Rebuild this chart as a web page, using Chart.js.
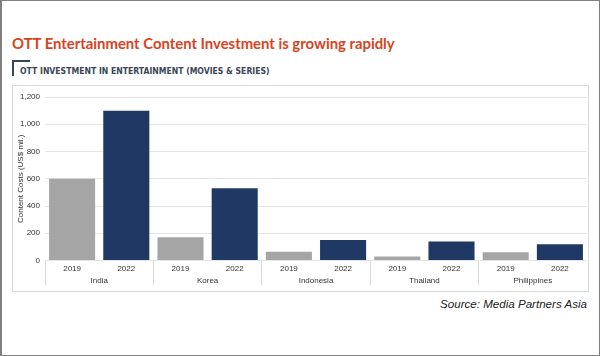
<!DOCTYPE html>
<html>
<head>
<meta charset="utf-8">
<script src="https://cdn.jsdelivr.net/npm/chart.js@4/dist/chart.umd.min.js"></script>
<style>
  html, body { margin: 0; padding: 0; background: #fff; }
  body { width: 600px; height: 356px; position: relative; overflow: hidden; }
  #frame { position: absolute; left: 0; top: 0; width: 600px; height: 356px; box-sizing: border-box;
           border: 1px solid #7f7f7f; border-left-width: 2px; }
  .txt { position: absolute; white-space: nowrap; line-height: 1; }
  #title { left: 12px; top: 36px; color: #d8431e; font-family: Lato, "Noto Sans", sans-serif; font-weight: bold; font-size: 15px; }
  #subtitle { left: 20px; top: 67px; color: #3b4656; font-family: "Liberation Sans Narrow", "DejaVu Sans Condensed", sans-serif; font-weight: bold; font-size: 11px; }
  #bracket { position: absolute; left: 12px; top: 60px; width: 16px; height: 14px; border-left: 2px solid #3b4656; border-top: 2px solid #3b4656; }
  #box { position: absolute; left: 12px; top: 85px; width: 577px; height: 207px; box-sizing: border-box; border: 1px solid #d6dce4; }
  #wrap { position: absolute; left: 12px; top: 85px; width: 576px; height: 207px; }
  #source { top: 299px; color: #222; font-family: "Liberation Sans", sans-serif; font-style: italic; font-size: 11px; }
</style>
</head>
<body>
<div id="frame"></div>
<div id="title" class="txt">OTT Entertainment Content Investment is growing rapidly</div>
<div id="bracket"></div>
<div id="subtitle" class="txt">OTT INVESTMENT IN ENTERTAINMENT (MOVIES &amp; SERIES)</div>
<div id="box"></div>
<div id="wrap"><canvas id="c" width="576" height="207"></canvas></div>
<div id="source" class="txt">Source: Media Partners Asia</div>
<script>
// ---- data ----
const countries = ['India', 'Korea', 'Indonesia', 'Thailand', 'Philippines'];
const years = ['2019', '2022'];
const values2019 = [600, 170, 65, 30, 60];
const values2022 = [1100, 530, 150, 140, 120];
const yTicks = [0, 200, 400, 600, 800, 1000, 1200];
const yTitle = 'Content Costs (US$ mil.)';

// ---- text fitting (layout only) ----
function fit(id, targetWidth) {
  const el = document.getElementById(id);
  const fs = parseFloat(getComputedStyle(el).fontSize);
  const w = el.getBoundingClientRect().width;
  el.style.fontSize = (fs * targetWidth / w) + 'px';
  return el;
}
fit('title', 383);
fit('subtitle', 250);
const src = fit('source', 147);
src.style.left = (587 - src.getBoundingClientRect().width) + 'px';

// ---- build chart data from arrays ----
const labels = [];
const values = [];
const colors = [];
countries.forEach((c, i) => {
  labels.push(years[0]); values.push(values2019[i]); colors.push('#a5a5a5');
  labels.push(years[1]); values.push(values2022[i]); colors.push('#203864');
});

const tickFont = { family: '"Liberation Sans", Arial, sans-serif', size: 8 };
const tickColor = '#333333';

new Chart(document.getElementById('c'), {
  type: 'bar',
  data: {
    labels: labels,
    datasets: [{
      data: values,
      backgroundColor: colors,
      borderWidth: 0,
      barPercentage: 0.85,
      categoryPercentage: 1.0
    }]
  },
  options: {
    responsive: false,
    animation: false,
    layout: { padding: { top: 12, right: 1, bottom: 0, left: 0 } },
    plugins: { legend: { display: false }, tooltip: { enabled: false } },
    scales: {
      y: {
        min: 0, max: 1200,
        afterBuildTicks: s => { s.ticks = yTicks.map(v => ({ value: v })); },
        afterFit: s => { s.width = 33; },
        border: { display: false },
        grid: { color: '#e6e6e6', drawTicks: false, lineWidth: 1 },
        ticks: {
          font: tickFont, color: tickColor, padding: 5,
          callback: v => v.toLocaleString('en-US')
        },
        title: { display: true, text: yTitle, font: tickFont, color: tickColor, padding: { top: 4, bottom: 4 } }
      },
      x: {
        position: 'bottom',
        afterFit: s => { s.height = 13; },
        border: { display: false },
        grid: {
          offset: true, drawOnChartArea: false, drawTicks: true, tickLength: 25,
          color: ctx => (ctx.index % 2 === 0 ? '#d9d9d9' : 'rgba(0,0,0,0)'),
          lineWidth: 1
        },
        ticks: { font: tickFont, color: tickColor, padding: -22, maxRotation: 0, autoSkip: false }
      },
      x2: {
        type: 'category',
        position: 'bottom',
        labels: countries,
        offset: true,
        afterFit: s => { s.height = 18.5; },
        border: { display: false },
        grid: { display: false, drawTicks: false },
        ticks: { font: tickFont, color: tickColor, padding: 2, maxRotation: 0, autoSkip: false }
      }
    }
  }
});
</script>
</body>
</html>
